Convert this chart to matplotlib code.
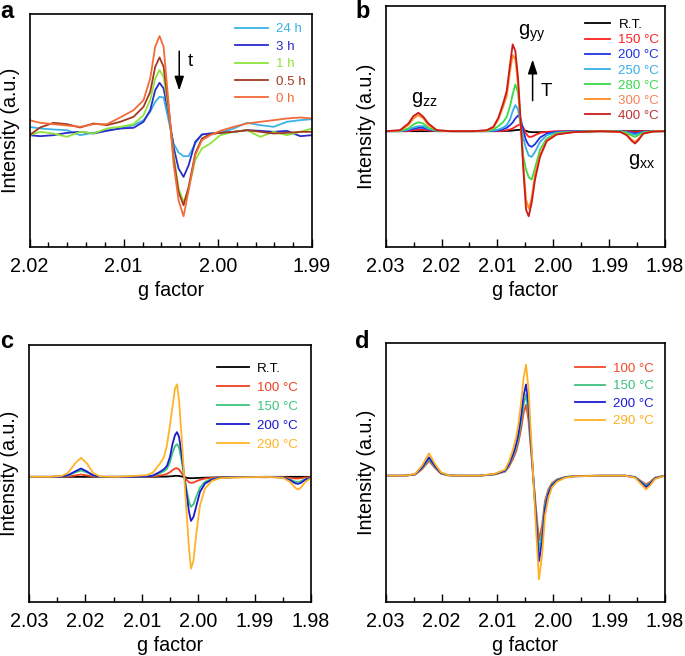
import matplotlib
matplotlib.use("Agg")
import matplotlib.pyplot as plt
from matplotlib.ticker import MultipleLocator, FormatStrFormatter

plt.rcParams.update({
    "font.family": ["Liberation Sans", "DejaVu Sans"],
    "font.size": 14.2,
    "axes.linewidth": 1.2,
    "mathtext.default": "regular",
})

# ---- panel a: ageing at room temperature ----
g_a = [2.0200, 2.01887, 2.01745, 2.01603, 2.01462, 2.0132, 2.01178, 2.01037, 2.00895, 2.00789,
       2.00718, 2.00665, 2.00619, 2.00576, 2.00523, 2.0047, 2.00417, 2.00364, 2.0031, 2.0024,
       2.00169, 2.0008, 1.99974, 1.99832, 1.99691, 1.99549, 1.99407, 1.99266, 1.99124, 1.9900]
a_labels = ["24 h", "3 h", "1 h", "0.5 h", "0 h"]
a_colors = ["#3cb2e6", "#2b2bc8", "#8fe33c", "#a3391f", "#f26b3a"]
a_24h = [2.0, 1.5, 1.2, 1.0, -0.5, 0.2, 1.0, 1.5, 2.5, 4.0, 6.5, 9.5, 11.0, 10.8, 4.0, -3.0,
         -5.7, -6.8, -6.8, -3.0, -0.3, 0.0, 0.2, 1.5, 3.2, 2.5, 2.0, 3.5, 4.0, 4.3]
a_3h = [-0.5, -0.8, -0.5, 0.2, 0.5, 0.0, 0.8, 1.5, 1.7, 3.5, 7.0, 13.0, 15.2, 13.5, 6.0, -4.0,
        -10.5, -13.0, -9.5, -2.5, -0.3, 0.0, 0.2, 0.5, 1.0, 0.8, 0.5, 0.8, -0.8, -0.5]
a_1h = [-0.5, 0.5, 0.0, -1.0, 0.5, 0.0, 1.5, 2.0, 2.8, 5.5, 10.0, 16.5, 19.0, 17.0, 7.0, -6.0,
        -16.5, -20.5, -16.5, -8.0, -4.5, -3.0, -0.5, 0.5, 1.0, -1.0, 0.5, -0.5, 0.5, 1.5]
a_05h = [-0.5, 1.8, 3.2, 2.8, 1.8, 3.0, 2.5, 3.5, 5.0, 8.0, 12.5, 20.0, 22.8, 20.0, 8.0, -7.5,
         -17.5, -21.5, -16.0, -6.0, -1.5, -0.2, 0.2, 0.5, 1.0, 0.5, 0.0, 0.2, 0.5, 0.5]
a_0h = [4.0, 3.2, 2.8, 2.4, 2.0, 2.8, 2.8, 4.8, 7.0, 10.0, 16.5, 26.0, 29.2, 26.0, 9.0, -9.0,
        -20.0, -24.8, -17.0, -6.5, -2.0, -0.5, 0.8, 2.0, 3.0, 3.5, 4.0, 4.5, 4.8, 4.5]
a_series = [a_24h, a_3h, a_1h, a_05h, a_0h]

# ---- panel b: annealing series ----
g_b = [2.03, 2.02743, 2.02594, 2.02505, 2.02415, 2.02326, 2.02236, 2.02087, 2.01848, 2.01431,
       2.01192, 2.01073, 2.00983, 2.00894, 2.00834, 2.00774, 2.00727, 2.00679, 2.00631, 2.00584,
       2.00536, 2.00488, 2.0044, 2.00387, 2.00327, 2.00237, 2.00118, 1.99939, 1.99641, 1.99163,
       1.98805, 1.98686, 1.98597, 1.98537, 1.98477, 1.98388, 1.98209, 1.98]
b_labels = ["R.T.", "150 °C", "200 °C", "250 °C", "280 °C", "300 °C", "400 °C"]
b_colors = ["#000000", "#ff1f1f", "#1f33e0", "#38aee8", "#3ada4a", "#ff8c1f", "#cc1a1a"]
b_text = ["#000000", "#ff1f1f", "#1f33e0", "#38aee8", "#3ada4a", "#f5845a", "#c03535"]
b_rt = [0, 0, 0, 0, 0, 0, 0, 0, 0, 0, 0, 0, 0, 0, 0.1, 0.1, 0.2, 0.3, 0.4, 0.4,
        0.3, 0.1, -0.2, -0.3, -0.3, -0.3, -0.25, -0.2, -0.1, 0, 0, 0, 0, 0, 0, 0, 0, 0]
b_150 = [0, 0, 0, 0.3, 0.4, 0.4, 0.2, 0, 0, 0, 0, 0, 0, 0.1, 0.3, 0.5, 0.8, 1.3, 1.8, 2.1,
         1.1, -0.7, -1.7, -1.7, -1.2, -0.5, -0.2, 0, 0, 0, 0, 0, -0.2, -0.3, -0.2, 0, 0, 0]
b_200 = [0, 0, 0.3, 0.7, 1.0, 1.0, 0.5, 0.1, 0, 0, 0, 0.1, 0.2, 0.6, 1.0, 1.8, 2.6, 3.8, 4.7, 3.8,
         0.1, -2.7, -4.2, -4.7, -3.9, -1.9, -0.7, -0.2, 0, 0, 0, -0.2, -0.5, -0.7, -0.5, -0.2, 0, 0]
b_250 = [0, 0, 0.5, 1.1, 1.5, 1.5, 0.7, 0.1, 0, 0, 0, 0.2, 0.5, 1.1, 1.8, 3.5, 6.0, 7.8, 6.5, 2.0,
         -2.0, -5.2, -7.3, -7.7, -6.2, -3.2, -1.2, -0.4, -0.1, 0, 0, -0.3, -0.8, -1.1, -0.8, -0.3, 0, 0]
b_280 = [0, 0.1, 0.8, 2.0, 2.7, 2.3, 1.0, 0.2, 0, 0, 0.1, 0.5, 1.5, 2.8, 4.3, 7.5, 11.0, 14.0, 11.5, 2.5,
         -7.7, -11.5, -13.8, -14.5, -11.0, -5.5, -2.2, -0.6, -0.2, 0, -0.1, -0.5, -1.3, -1.7, -1.2, -0.4, 0, 0]
b_300 = [0, 0.2, 1.8, 3.8, 4.8, 3.8, 1.8, 0.3, 0, 0, 0.2, 1.0, 3.5, 7.5, 10.5, 18.0, 22.8, 21.5, 14.0, 2.0,
         -10.0, -20.5, -23.2, -20.0, -13.0, -7.0, -2.7, -0.9, -0.3, 0, -0.2, -1.0, -2.5, -3.2, -2.3, -0.7, -0.1, 0]
b_400 = [0, 0.3, 2.3, 4.5, 5.5, 4.3, 2.3, 0.3, 0, 0, 0.3, 1.3, 4.0, 8.5, 12.0, 20.0, 26.0, 24.0, 16.0, 3.0,
         -11.5, -23.5, -25.5, -21.5, -14.5, -7.7, -3.0, -1.0, -0.3, 0, -0.2, -1.2, -2.9, -3.7, -2.7, -0.7, -0.1, 0]
b_series = [b_rt, b_150, b_200, b_250, b_280, b_300, b_400]

# ---- panel c ----
g_c = [2.03, 2.02628, 2.02415, 2.02309, 2.02184, 2.02078, 2.01972, 2.01865, 2.01741, 2.0144,
       2.00908, 2.00801, 2.00677, 2.00606, 2.00553, 2.005, 2.00456, 2.00411, 2.00376, 2.0034,
       2.00296, 2.00252, 2.00207, 2.00163, 2.00128, 2.00083, 2.0003, 1.99968, 1.9988, 1.99755,
       1.99613, 1.99383, 1.9878, 1.98497, 1.98372, 1.98284, 1.98231, 1.98177, 1.98106, 1.98]
c_labels = ["R.T.", "100 °C", "150 °C", "200 °C", "290 °C"]
c_colors = ["#000000", "#f04020", "#3cc47c", "#1a1ad0", "#ffb428"]
c_rt = [0, 0, 0, 0, 0, 0, 0, 0, 0, 0, 0, 0, 0.05, 0.05, 0.1, 0.15, 0.2, 0.3, 0.3, 0.25,
        0.1, 0, -0.3, -0.4, -0.4, -0.4, -0.35, -0.3, -0.25, -0.2, -0.15, -0.1, 0, 0, 0, 0, 0, 0, 0, 0]
c_100 = [0, 0, 0, 0.1, 0.4, 0.7, 0.4, 0.1, 0, 0, 0, 0.1, 0.4, 0.6, 0.9, 1.4, 2.0, 2.5, 2.6, 2.2,
         1.2, 0.1, -0.9, -1.6, -1.8, -1.7, -1.3, -0.9, -0.5, -0.3, -0.2, -0.1, -0.1, -0.1, -0.3, -0.5, -0.5, -0.4, -0.2, -0.1]
c_150 = [0, 0, 0.1, 0.4, 1.3, 1.9, 1.3, 0.4, 0, 0, 0.1, 0.3, 1.1, 1.7, 2.4, 4.4, 7.2, 9.2, 9.8, 8.8,
         5.0, 0.5, -3.8, -7.5, -9.0, -8.2, -5.8, -3.2, -1.5, -0.6, -0.3, -0.1, 0, -0.2, -0.8, -1.4, -1.5, -1.3, -0.7, -0.2]
c_200 = [0, 0, 0.1, 0.5, 1.6, 2.5, 1.6, 0.5, 0, 0, 0.1, 0.4, 1.5, 2.3, 3.3, 6.0, 9.8, 12.5, 13.4, 12.0,
         7.0, 1.0, -5.0, -10.5, -13.2, -12.0, -8.5, -4.5, -2.0, -0.8, -0.3, -0.1, 0, -0.2, -1.0, -1.9, -2.1, -1.8, -0.9, -0.2]
c_290 = [0, 0, 0.3, 1.2, 4.0, 5.7, 4.0, 1.2, 0.1, 0, 0.5, 1.3, 4.0, 6.0, 9.5, 15.5, 21.0, 26.5, 27.7, 23.0,
         12.5, 1.0, -10.5, -21.5, -27.5, -25.0, -16.5, -8.5, -3.5, -1.2, -0.4, -0.2, 0, -0.3, -1.5, -3.2, -3.8, -3.2, -1.6, -0.3]
c_series = [c_rt, c_100, c_150, c_200, c_290]

# ---- panel d ----
g_d = [2.03, 2.02654, 2.02475, 2.0235, 2.02225, 2.02117, 2.0201, 2.01885, 2.01759, 2.01312,
       2.01043, 2.00954, 2.00864, 2.00793, 2.00721, 2.00667, 2.00623, 2.00578, 2.00533, 2.00488,
       2.00444, 2.00399, 2.00354, 2.00309, 2.00256, 2.00202, 2.00148, 2.00086, 2.00023, 1.99933,
       1.9979, 1.99611, 1.99164, 1.98716, 1.98537, 1.98412, 1.9834, 1.98269, 1.98179, 1.98]
d_labels = ["100 °C", "150 °C", "200 °C", "290 °C"]
d_colors = ["#f04a2a", "#3cc080", "#1a1adc", "#ffb020"]
d_100 = [0, 0, 0.3, 1.9, 4.4, 2.3, 0.6, 0.1, 0, 0, 0.4, 0.8, 1.2, 2.7, 5.0, 7.2, 10.0, 13.8, 18.6, 21.2,
         16.6, 7.6, -1.2, -10.0, -19.3, -15.0, -7.5, -4.0, -2.2, -1.1, -0.4, -0.1, 0, 0, -0.4, -1.8, -2.6, -1.9, -0.6, 0]
d_150 = [0, 0, 0.4, 2.2, 4.9, 2.6, 0.7, 0.1, 0, 0, 0.4, 0.9, 1.3, 3.1, 5.7, 8.2, 11.3, 15.7, 21.2, 24.3,
         19.0, 8.8, -1.4, -11.5, -22.3, -17.3, -8.6, -4.6, -2.5, -1.3, -0.4, -0.1, 0, 0, -0.4, -2.0, -3.0, -2.2, -0.7, 0]
d_200 = [0, 0, 0.4, 2.5, 5.5, 2.9, 0.8, 0.2, 0, 0, 0.5, 1.0, 1.5, 3.4, 6.4, 9.3, 12.7, 17.6, 23.8, 27.3,
         21.3, 9.8, -1.6, -13.0, -25.6, -19.7, -9.8, -5.3, -2.9, -1.5, -0.5, -0.2, 0, 0, -0.5, -2.3, -3.4, -2.5, -0.8, 0]
d_290 = [0, 0, 0.5, 3.0, 6.7, 3.5, 1.0, 0.2, 0, 0, 0.6, 1.2, 1.8, 4.2, 7.8, 11.3, 15.5, 21.5, 29.0, 33.2,
         26.0, 12.0, -2.0, -16.0, -31.0, -24.0, -12.0, -6.5, -3.5, -1.8, -0.6, -0.2, 0, 0, -0.6, -2.8, -4.1, -3.0, -1.0, 0]
d_series = [d_100, d_150, d_200, d_290]

W, H = 685, 656
fig = plt.figure(figsize=(W / 100, H / 100), dpi=100)


def make_ax(left, top, right, bottom):
    return fig.add_axes([left / W, 1 - bottom / H, (right - left) / W, (bottom - top) / H])


def style(ax, xlim, ylim, major, minor):
    ax.set_xlim(*xlim)
    ax.set_ylim(*ylim)
    ax.xaxis.set_major_locator(MultipleLocator(major))
    ax.xaxis.set_minor_locator(MultipleLocator(minor))
    ax.xaxis.set_major_formatter(FormatStrFormatter("%.2f"))
    ax.set_yticks([])
    ax.tick_params(axis="x", which="major", direction="in", length=6, width=1.0, labelsize=14.2, pad=7)
    ax.tick_params(axis="x", which="minor", direction="in", length=3.5, width=1.0)
    ax.set_xlabel("g factor", fontsize=14.2, labelpad=4)
    ax.set_ylabel("Intensity (a.u.)", fontsize=14.2, labelpad=7)


def legend(ax, x, y, spacing, hlen, text_colors=None):
    leg = ax.legend(loc="upper left", bbox_to_anchor=(x, y), frameon=False, fontsize=9.6,
                    handlelength=hlen, handletextpad=0.6, labelspacing=spacing,
                    borderpad=0, borderaxespad=0)
    for t, ln in zip(leg.get_texts(), leg.get_lines()):
        t.set_color(ln.get_color())
    if text_colors:
        for t, c in zip(leg.get_texts(), text_colors):
            t.set_color(c)


arrow_style = dict(arrowstyle="-|>,head_width=0.2,head_length=0.6", color="black", lw=1.1)

# a
ax = make_ax(29.5, 14, 312, 247)
for y, lab, col in zip(a_series, a_labels, a_colors):
    ax.plot(g_a, y, color=col, lw=1.3, label=lab)
style(ax, (2.02, 1.99), (-34.0, 35.8), 0.01, 0.002)
legend(ax, 0.727, 0.961, 0.38, 2.5)
ax.annotate("", xy=(2.0041, 12.0), xytext=(2.0041, 25.5), arrowprops=arrow_style)
ax.text(2.00293, 21.5, "t", fontsize=13.5, ha="center", va="center")
fig.text(0.0, 1 - 11 / H, "a", fontsize=17, fontweight="bold", ha="left", va="center")

# b
ax = make_ax(385.7, 6, 665, 247)
for y, lab, col in zip(b_series, b_labels, b_colors):
    ax.plot(g_b, y, color=col, lw=1.3, label=lab)
style(ax, (2.03, 1.98), (-34.7, 37.5), 0.01, 0.005)
legend(ax, 0.714, 0.947, 0.21, 1.9, b_text)
ax.text(2.0230, 9.5, r"$g_{zz}$", fontsize=14.5, ha="center", va="center")
ax.text(2.0039, 29.3, r"$g_{yy}$", fontsize=14.5, ha="center", va="center")
ax.text(1.9842, -9.2, r"$g_{xx}$", fontsize=14.5, ha="center", va="center")
ax.annotate("", xy=(2.0037, 22.3), xytext=(2.0037, 8.3), arrowprops=arrow_style)
ax.text(2.0012, 11.8, "T", fontsize=13.5, ha="center", va="center")
fig.text(355 / W, 1 - 11 / H, "b", fontsize=17, fontweight="bold", ha="left", va="center")

# c
ax = make_ax(29, 345, 311, 602)
for y, lab, col in zip(c_series, c_labels, c_colors):
    ax.plot(g_c, y, color=col, lw=1.3, label=lab)
style(ax, (2.03, 1.98), (-37.5, 39.5), 0.01, 0.005)
legend(ax, 0.666, 0.933, 0.5, 2.4)
fig.text(0.0, 1 - 341 / H, "c", fontsize=17, fontweight="bold", ha="left", va="center")

# d
ax = make_ax(385.7, 343, 665, 602)
for y, lab, col in zip(d_series, d_labels, d_colors):
    ax.plot(g_d, y, color=col, lw=1.3, label=lab)
style(ax, (2.03, 1.98), (-37.8, 39.7), 0.01, 0.005)
legend(ax, 0.678, 0.924, 0.38, 2.25)
fig.text(355 / W, 1 - 341 / H, "d", fontsize=17, fontweight="bold", ha="left", va="center")

fig.savefig("out.png", dpi=100)
